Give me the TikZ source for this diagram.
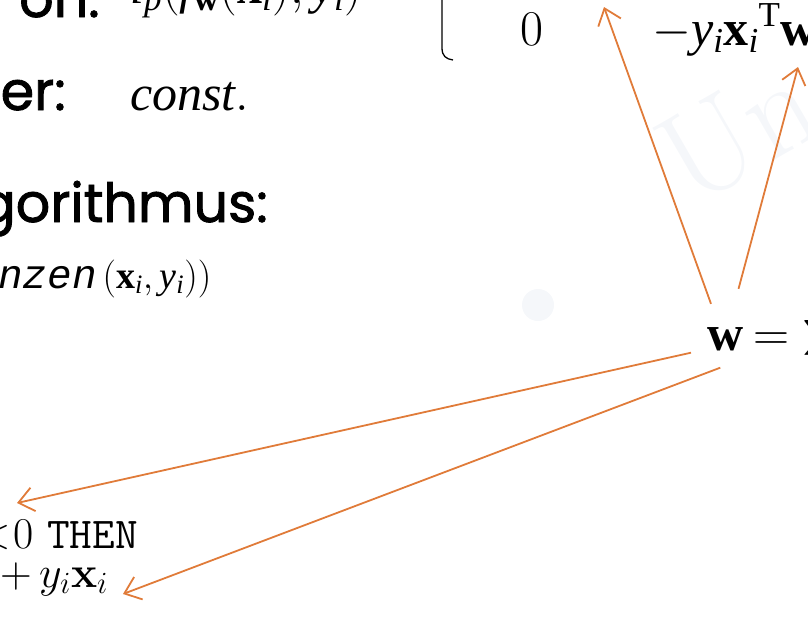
\RequirePackage{fix-cm}
\documentclass[tikz,border=0pt]{standalone}
\usepackage{amsmath}
\usepackage{fontspec}
\setmathrm{Liberation Serif}
\usepackage{tikz}
\usetikzlibrary{positioning}
\usetikzlibrary{arrows.meta}
\usepackage{xcolor}

\newfontfamily\kopffont{Poppins}[FakeBold=1.6]
\newfontfamily\codefont{Liberation Mono}
\newcommand{\ti}[1]{\mathit{#1}}
\definecolor{pfeil}{RGB}{224,123,57}
\definecolor{wasser}{RGB}{245,247,250}

\tikzset{
    kopf/.style={font=\kopffont\fontsize{54}{60}\selectfont, inner sep=0pt, anchor=base east},
    formel/.style={font=\fontsize{50}{56}\selectfont, inner sep=0pt, anchor=base west},
    code/.style={font=\fontsize{44}{50}\selectfont, inner sep=0pt, anchor=base west},
    zeiger/.style={pfeil, line width=1.8pt, -{Straight Barb[length=15pt,width=24pt,line width=1.8pt]}}
}

\begin{document}
\begin{tikzpicture}[x=1pt, y=-1pt]
    \useasboundingbox (0,0) rectangle (808,627);
    \clip (0,0) rectangle (808,627);

    % Wasserzeichen
    \fill[wasser] (538,305) circle (16pt);
    \node[text=wasser, rotate=30, font=\fontsize{130}{130}\selectfont] (marke) at (738,132) {Un};

    % Kopfzeilen links
    \node[kopf] (kopfA) at (100,17) {on:};
    \node[kopf] (kopfB) at (66,110) {er:};
    \node[kopf] (kopfC) at (268,222) {gorithmus:};

    % Formeln
    \node[formel] (verlust) at (130,3) {$\ti l_{\ti p}(\ti f_{\mathbf w}(\mathbf x_{\ti i}), \ti y_{\ti i})$};
    \node[formel] (konst) at (130,110) {$\ti{const.}$};
    \node[formel, font=\fontsize{38}{44}\selectfont] (schleife) at (-2,288) {{\codefont\fontsize{41}{46}\selectfont\itshape nzen}\hspace{6pt}$(\mathbf x_{\ti i}, \ti y_{\ti i}))$};
    \node[code] (bedingung) at (-23,548) {$<$\hspace{3pt}0 \texttt{THEN}};
    \node[code] (update) at (0,587) {$+\,y_i\text{\bfseries x}_i$};

    % Fallunterscheidung rechts oben
    \draw[line width=1.3pt] (442,-2) -- (442,48) .. controls (442,56) and (446,59) .. (453,60);
    \node[formel] (null) at (520,45) {$0$};
    \node[formel] (gradient) at (652,45) {$-\ti y_{\ti i}{\mathbf x_{\ti i}}^{\mathrm T}\mathbf w$};

    % Gewichtsvektor
    \node[formel] (w) at (707,350) {$\mathbf w$};
    \node[formel] (summe) at (753,350) {$=\displaystyle\sum$};

    % Pfeile
    \coordinate (s1) at ([shift={(4,-23)}]w.north west);
    \coordinate (s2) at ([shift={(-5,-38)}]w.north east);
    \coordinate (s3) at ([shift={(-16,2)}]w.south west);
    \coordinate (s4) at ([shift={(-5,17)}]w.south);
    \coordinate (z1) at (604,7);
    \coordinate (z2) at (798,67);
    \coordinate (z3) at (17,503);
    \coordinate (z4) at (123,594);
    \draw[zeiger] (s1) -- (z1);
    \draw[zeiger] (s2) -- (z2);
    \draw[zeiger] (s3) -- (z3);
    \draw[zeiger] (s4) -- (z4);
\end{tikzpicture}
\end{document}
